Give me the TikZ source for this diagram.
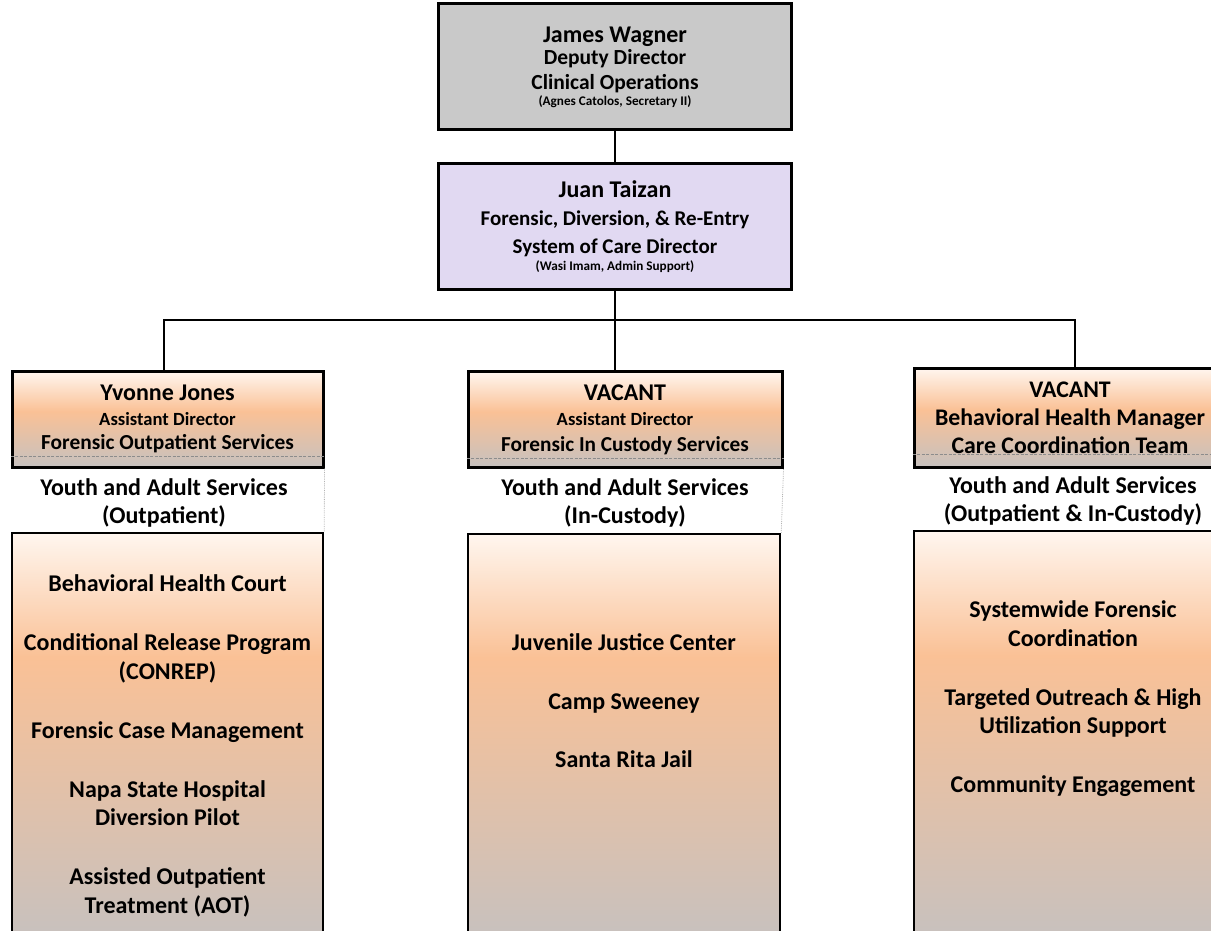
\documentclass[tikz,border=0pt]{standalone}
\usepackage{fontspec}
\setmainfont{Carlito}
\definecolor{topgray}{HTML}{C9C9C9}
\definecolor{lilac}{HTML}{E1D9F2}
\definecolor{peachlt}{HTML}{FFF6EF}
\definecolor{peach}{HTML}{FAC196}
\definecolor{peachgray}{HTML}{C6C1BF}
\pgfdeclareverticalshading{headfill}{100bp}{color(0bp)=(peachgray); color(25bp)=(peachgray); color(54bp)=(peach); color(75bp)=(peachlt); color(100bp)=(peachlt)}
\pgfdeclareverticalshading{bodyfill}{100bp}{color(0bp)=(peachgray); color(25bp)=(peachgray); color(60bp)=(peach); color(75bp)=(peachlt); color(100bp)=(peachlt)}
\newcommand{\namesz}{\fontsize{24}{25}\selectfont}
\newcommand{\subsz}{\fontsize{18.6}{20}\selectfont}
\newcommand{\smallsz}{\fontsize{13.2}{14}\selectfont}
\tikzset{
  boss/.style={draw,line width=3pt,minimum width=353pt,minimum height=126pt,inner sep=0pt,align=center},
  head/.style={draw,line width=3pt,shading=headfill,minimum height=96pt,inner sep=0pt,align=center},
  body/.style={draw,line width=2.5pt,shading=bodyfill,inner sep=0pt},
  txt/.style={align=center,inner sep=0pt,font=\bfseries\fontsize{24}{28.5}\selectfont},
  conn/.style={line width=1.6pt},
  dashline/.style={black!45,line width=0.6pt,dash pattern=on 3pt off 1.5pt},
  dotline/.style={black!30,line width=0.8pt,densely dotted}
}
\begin{document}
\begin{tikzpicture}[x=1pt,y=-1pt]
\useasboundingbox (0,0) rectangle (1211,931);
\clip (0,0) rectangle (1211,931);
\node[boss,fill=topgray,font=\bfseries\fontsize{21.5}{25}\selectfont] (1)at(615,67){\namesz James Wagner\\[-3pt]Deputy Director\\Clinical Operations\\[-9pt]\smallsz (Agnes Catolos, Secretary II)};
\node[boss,fill=lilac,font=\bfseries\fontsize{21}{28}\selectfont] (2)at(615,226.5){\namesz Juan Taizan\\Forensic, Diversion, \& Re-Entry\\System of Care Director\\[-11pt]\smallsz (Wasi Imam, Admin Support)};
\node[head,minimum width=311pt,font=\bfseries\fontsize{21.4}{24.5}\selectfont] (3)at(167.5,419){\namesz Yvonne Jones\\\subsz Assistant Director\\Forensic Outpatient Services};
\node[head,minimum width=314pt,font=\bfseries\fontsize{21.3}{25.5}\selectfont] (4)at(625,419.5){\namesz VACANT\\\subsz Assistant Director\\Forensic In Custody Services};
\node[head,minimum width=312pt,minimum height=99pt,font=\bfseries\fontsize{23.8}{28}\selectfont] (5)at(1070,417.5){VACANT\\Behavioral Health Manager\\Care Coordination Team};
\node[txt] (6)at(164,503){Youth and Adult Services\\(Outpatient)};
\node[txt] (7)at(625,503){Youth and Adult Services\\(In-Custody)};
\node[txt] (8)at(1073,501){Youth and Adult Services\\(Outpatient \& In-Custody)};
\node[body,minimum width=311pt,minimum height=412pt] (9)at(167.5,739){};
\node[body,minimum width=312pt,minimum height=411pt] (10)at(624,739.5){};
\node[body,minimum width=322pt,minimum height=414pt] (11)at(1075,738){};
\node[txt] (12)at(167.5,746){Behavioral Health Court\\[30.5pt]Conditional Release Program\\(CONREP)\\[30.5pt]Forensic Case Management\\[30.5pt]Napa State Hospital\\Diversion Pilot\\[30.5pt]Assisted Outpatient\\Treatment (AOT)};
\node[txt] (13)at(624,701){Juvenile Justice Center\\[30pt]Camp Sweeney\\[30pt]Santa Rita Jail};
\node[txt] (14)at(1073,699){Systemwide Forensic\\Coordination\\[30.5pt]Targeted Outreach \& High\\Utilization Support\\[30.5pt]Community Engagement};
\coordinate (bus)at(615,320);
\draw[conn] (1)--(2);
\draw[conn] (2.south)--(2.south |- 4.north);
\draw[conn] ([xshift=-3.5pt]3.north) |- (bus) -| ([xshift=5pt]5.north);
\draw[dashline] ([yshift=12pt]3.south west)--([yshift=12pt]3.south east);
\draw[dashline] ([yshift=11pt]4.south west)--([yshift=11pt]4.south east);
\draw[dashline] ([yshift=14pt]5.south west)--([yshift=14pt]5.south east);
\draw[dotline] (3.south east)--(9.north east);
\draw[dotline] (4.south east)--(10.north east);
\draw[dotline] (5.south east)--(11.north east);
\end{tikzpicture}
\end{document}
